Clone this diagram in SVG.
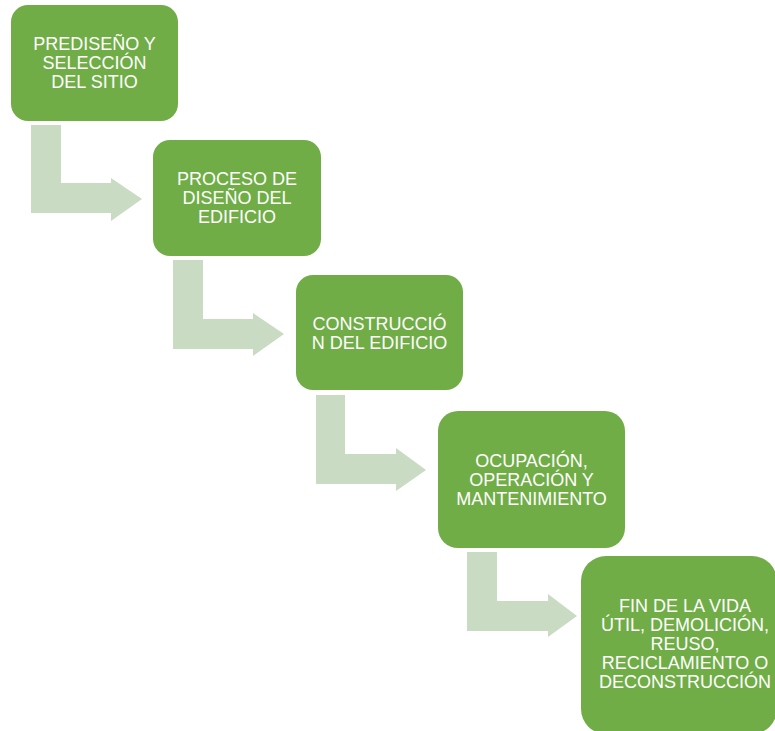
<svg xmlns="http://www.w3.org/2000/svg" width="775" height="731" viewBox="0 0 775 731">
<style>
.box{fill:#70AD47;}
.arr{fill:#C9DBC3;}
.t{font-family:"Liberation Sans",Arial,sans-serif;font-size:18px;fill:#FFFFFF;text-anchor:middle;}
</style>
<rect width="775" height="731" fill="#FFFFFF"/>
<g id="connectors">
<path class="arr" d="M31,125 H61 V183 H111 V178 L142,199 L111,221 V213 H31 Z"/>
<path class="arr" d="M173,260 H203 V319 H253 V313 L284,334 L253,356 V349 H173 Z"/>
<path class="arr" d="M316,395 H345 V454 H396 V448 L426,470 L396,491 V484 H316 Z"/>
<path class="arr" d="M467,552 H497 V601 H548 V594 L577,616 L548,637 V631 H467 Z"/>
</g>
<g id="node1">
<rect class="box" x="11" y="5" width="167" height="116" rx="17"/>
<text class="t" x="94.5" y="49.5">PREDISEÑO Y</text>
<text class="t" x="94.5" y="68.5">SELECCIÓN</text>
<text class="t" x="94.5" y="87.5">DEL SITIO</text>
</g>
<g id="node2">
<rect class="box" x="153" y="140" width="168" height="116" rx="17"/>
<text class="t" x="237" y="185">PROCESO DE</text>
<text class="t" x="237" y="204">DISEÑO DEL</text>
<text class="t" x="237" y="223">EDIFICIO</text>
</g>
<g id="node3">
<rect class="box" x="296" y="275" width="167" height="115" rx="17"/>
<text class="t" x="379.5" y="330">CONSTRUCCIÓ</text>
<text class="t" x="379.5" y="349">N DEL EDIFICIO</text>
</g>
<g id="node4">
<rect class="box" x="438" y="411" width="187" height="137" rx="20"/>
<text class="t" x="531.5" y="467">OCUPACIÓN,</text>
<text class="t" x="531.5" y="486">OPERACIÓN Y</text>
<text class="t" x="531.5" y="505">MANTENIMIENTO</text>
</g>
<g id="node5">
<rect class="box" x="581" y="556" width="196" height="178" rx="25"/>
<text class="t" x="685" y="612">FIN DE LA VIDA</text>
<text class="t" x="685" y="631">ÚTIL, DEMOLICIÓN,</text>
<text class="t" x="685" y="650">REUSO,</text>
<text class="t" x="685" y="669">RECICLAMIENTO O</text>
<text class="t" x="685" y="688">DECONSTRUCCIÓN</text>
</g>
</svg>
